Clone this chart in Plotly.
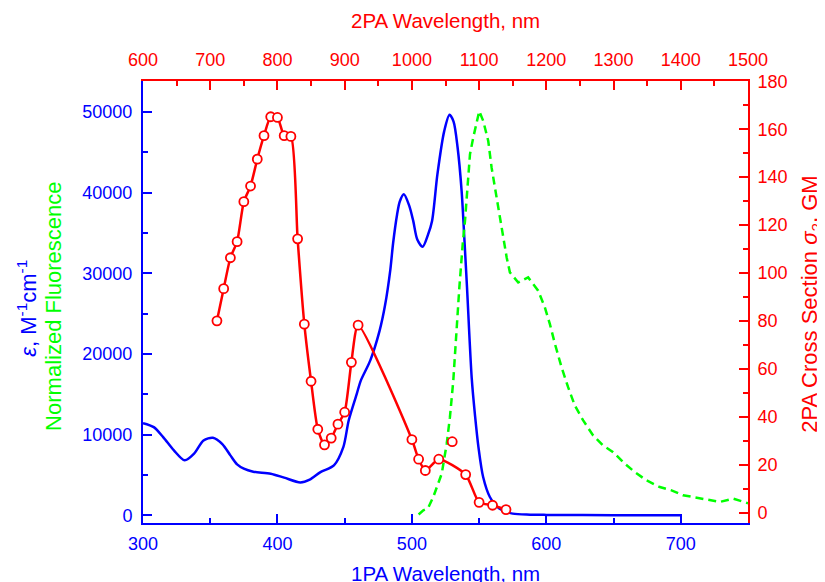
import plotly.graph_objects as go

# 1PA absorption (bottom / left axes)
abs_wl = [300, 308, 315, 323, 331, 338, 345, 352, 359, 365,
          370, 375, 382, 395, 405, 417, 424, 432, 442, 449,
          453, 459, 462, 469, 476, 480, 484, 486, 489, 491,
          494, 498, 501, 504, 508, 512, 515, 519, 524, 528,
          531, 534, 537, 539, 541, 544.5, 547, 549.5, 553, 558,
          565, 575, 588, 600, 650, 700]
abs_eps = [11420, 10930, 9690, 8040, 6810, 7640, 9280, 9620, 8830, 7430,
           6310, 5780, 5410, 5160, 4670, 4080, 4420, 5360, 6190, 8450,
           11760, 15060, 16700, 19180, 22900, 26000, 30500, 33700, 37300, 38900,
           39800, 38400, 36500, 34200, 33300, 34800, 36500, 42300, 47600, 49650,
           48800, 45600, 40200, 34400, 28250, 17000, 12300, 8460, 4740, 2270,
           830, 210, 80, 50, 20, 0]

# fluorescence, normalised to the left scale
fl_wl = [505, 508.5, 512, 515.9, 522.2, 525.9, 528.3, 530.8,
         535.3, 536.3, 537.8, 539.5, 541.2, 543.2, 545.6, 548.2, 550.1,
         553.1, 556.8, 559.3, 563.0, 566.8, 570.5, 572.9,
         579.1, 586.5, 593.9, 598.9, 602.6, 606.4, 611.3, 616.2, 621.2, 627.4,
         634.8, 642.2, 649.7, 658.4, 665.8, 674.5, 684.4, 693.1, 701.7, 709.1,
         719.1, 729.0, 738.8, 746.3, 750]
fl_val = [100, 620, 870, 2270, 5160, 8870, 12170, 16710,
          28260, 30730, 33620, 36500, 40210, 44750, 46800, 48880, 50120,
          48880, 46410, 43100, 39390, 35270, 31970, 30120,
          28870, 29490, 27850, 25780, 23730, 21250, 18360, 15880, 13610, 11760,
          9900, 8660, 7830, 6400, 5360, 4330, 3500, 3090, 2480, 2270,
          1940, 1650, 2070, 1650, 1500]

# 2PA cross section (top / right axes)
tpa_wl = [710, 720, 730, 740, 750, 760, 770, 780, 790, 800,
          810, 820, 830, 840, 850, 860, 870, 880, 890, 900,
          910, 920, 1000, 1010, 1020, 1040, 1060, 1080, 1100, 1120, 1140]
tpa_gm = [80.1, 93.5, 106.4, 113.1, 129.8, 136.3, 147.5, 157.3, 165.2, 164.9,
          157.3, 157.0, 114.3, 78.7, 54.9, 34.9, 28.4, 31.2, 37.0, 42.0,
          62.8, 78.3, 30.6, 22.4, 17.7, 22.4, 29.7, 16.0, 4.4, 3.2, 1.4]
# the guide line skips the 1060 nm point
tpa_on_line = [w != 1060 for w in tpa_wl]

BLUE = '#0000FF'
RED = '#FF0000'
GREEN = '#00FF00'
FONT = 'Liberation Sans, Arial, sans-serif'

line_wl = [w for w, k in zip(tpa_wl, tpa_on_line) if k]
line_gm = [g for g, k in zip(tpa_gm, tpa_on_line) if k]

fig = go.Figure()
fig.add_trace(go.Scatter(x=abs_wl, y=abs_eps, mode='lines',
                         line=dict(color=BLUE, width=2.5, shape='spline', smoothing=0.8),
                         xaxis='x', yaxis='y'))
fig.add_trace(go.Scatter(x=fl_wl, y=fl_val, mode='lines',
                         line=dict(color=GREEN, width=2.5, dash='8px,5px'),
                         xaxis='x', yaxis='y'))
fig.add_trace(go.Scatter(x=line_wl, y=line_gm, mode='lines',
                         line=dict(color=RED, width=2.5, shape='spline', smoothing=0.6),
                         xaxis='x2', yaxis='y2'))
fig.add_trace(go.Scatter(x=tpa_wl, y=tpa_gm, mode='markers',
                         marker=dict(symbol='circle', size=9, color='white',
                                     line=dict(color=RED, width=1.8)),
                         xaxis='x2', yaxis='y2'))


def axis_style(color, rng, dtick, tick0, minor_dtick, standoff):
    return dict(range=rng, showline=True, linecolor=color, linewidth=2,
                ticks='inside', ticklen=9, tickwidth=2, tickcolor=color,
                dtick=dtick, tick0=tick0, tickformat='d',
                ticklabelstandoff=standoff,
                minor=dict(dtick=minor_dtick, ticks='inside', ticklen=5,
                           tickwidth=2, tickcolor=color),
                tickfont=dict(family=FONT, size=18, color=color),
                showgrid=False, zeroline=False, fixedrange=True)


# the page body adds an 8px offset, so the figure is 8px smaller than the window
fig.update_layout(
    width=817, height=574,
    margin=dict(l=135, r=77, t=73, b=59),
    paper_bgcolor='white', plot_bgcolor='white',
    showlegend=False,
    font=dict(family=FONT),
    xaxis=axis_style(BLUE, [300, 750], 100, 300, 50, 3),
    xaxis2=dict(axis_style(RED, [600, 1500], 100, 600, 50, 6),
                overlaying='x', side='top'),
    yaxis=axis_style(BLUE, [-955, 53845], 10000, 0, 5000, 5),
    yaxis2=dict(axis_style(RED, [-4.2, 180.1], 20, 0, 10, 4),
                overlaying='y', side='right'),
)

titles = [
    dict(text='1PA Wavelength, nm', x=0.5, y=-0.114, color=BLUE, angle=0, size=20.5),
    dict(text='2PA Wavelength, nm', x=0.5, y=1.137, color=RED, angle=0, size=20.5),
    dict(text='<i>ε</i>, M<sup>-1</sup>cm<sup>-1</sup>', x=-0.191, y=0.486,
         color=BLUE, angle=-90, size=22),
    dict(text='Normalized Fluorescence', x=-0.148, y=0.49,
         color=GREEN, angle=-90, size=22),
    dict(text='2PA Cross Section <i>σ</i><sub>2</sub>, GM', x=1.105, y=0.495,
         color=RED, angle=-90, size=22),
]
for t in titles:
    fig.add_annotation(text=t['text'], x=t['x'], y=t['y'], xref='paper', yref='paper',
                       xanchor='center', yanchor='middle', showarrow=False,
                       textangle=t['angle'],
                       font=dict(family=FONT, size=t['size'], color=t['color']))

fig.write_html("out.html")
